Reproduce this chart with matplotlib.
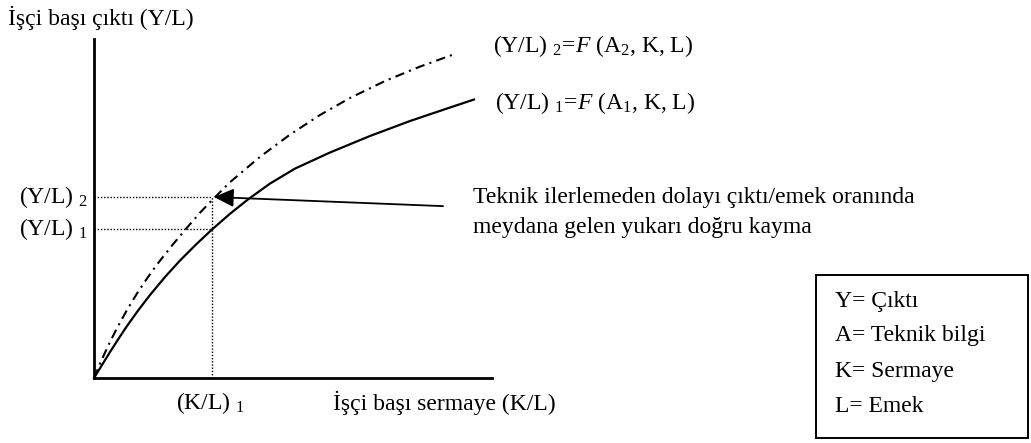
import matplotlib
matplotlib.use("Agg")
import matplotlib.pyplot as plt

plt.rcParams['font.family'] = ['Liberation Serif', 'DejaVu Serif']
plt.rcParams['mathtext.fontset'] = 'custom'
plt.rcParams['mathtext.rm'] = 'Liberation Serif'
plt.rcParams['mathtext.it'] = 'Liberation Serif:italic'

# ---- data (axis units 0..100) ----
curve1_x = [0, 2.01, 4.02, 6.03, 8.29, 11.06, 14.07, 17.84, 21.61, 25.63, 29.65,
            34.17, 38.69, 44.22, 50.50, 59.30, 69.35, 79.40, 89.45, 95.48]
curve1_y = [0, 3.83, 7.67, 11.33, 15.34, 19.88, 24.48, 29.79, 34.66, 39.38, 43.81,
            48.44, 52.68, 57.35, 61.77, 66.52, 71.39, 75.81, 79.79, 82.15]
curve2_x = [0, 1.51, 3.52, 5.78, 8.29, 10.80, 13.32, 15.83, 19.60, 22.86, 26.63,
            29.65, 34.17, 41.71, 49.25, 56.78, 64.32, 73.12, 81.91, 89.95]
curve2_y = [0, 4.25, 9.44, 14.75, 20.06, 24.93, 29.35, 33.48, 39.09, 43.66, 48.75,
            52.45, 57.76, 65.25, 71.80, 77.58, 82.60, 87.61, 91.86, 95.28]
kl1 = 29.65
yl1 = 43.81
yl2 = 53.39
arrow_tail = (87.7, 50.7)

label_y_axis = "İşçi başı çıktı (Y/L)"
label_x_axis = "İşçi başı sermaye (K/L)"
label_kl1 = r"(K/L) ${}_{1}$"
label_yl1 = r"(Y/L) ${}_{1}$"
label_yl2 = r"(Y/L) ${}_{2}$"
label_curve1 = r"(Y/L) ${}_{1}$=$\it{F}$ (A${}_{1}$, K, L)"
label_curve2 = r"(Y/L) ${}_{2}$=$\it{F}$ (A${}_{2}$, K, L)"
note_lines = ["Teknik ilerlemeden dolayı çıktı/emek oranında",
              "meydana gelen yukarı doğru kayma"]
legend_lines = ["Y= Çıktı", "A= Teknik bilgi", "K= Sermaye", "L= Emek"]

W, H = 1031, 443
FS = 17

def fx(px):
    return px / W

def fy(py):
    return 1 - py / H

fig = plt.figure(figsize=(W / 100, H / 100), dpi=100)
ax = fig.add_axes([fx(94), fy(378), fx(492) - fx(94), fy(39) - fy(378)])
ax.set_xlim(0, 100)
ax.set_ylim(0, 100)
for s in ['top', 'right']:
    ax.spines[s].set_visible(False)
for s in ['left', 'bottom']:
    ax.spines[s].set_linewidth(2.0)
ax.set_xticks([])
ax.set_yticks([])
ax.patch.set_alpha(0)

ax.plot(curve1_x, curve1_y, color='black', lw=1.6, clip_on=False)
ax.plot(curve2_x, curve2_y, color='black', lw=1.5, linestyle=(0, (4.5, 2.5, 1, 2.5)), clip_on=False)

# dotted guides
ax.plot([kl1, kl1], [0, yl2], color='black', lw=1.0, linestyle=(0, (1, 1.3)))
ax.plot([0, kl1], [yl1, yl1], color='black', lw=1.0, linestyle=(0, (1, 1.3)))
ax.plot([0, kl1], [yl2, yl2], color='black', lw=1.0, linestyle=(0, (1, 1.3)))

# arrow
ax.annotate('', xy=(kl1 + 0.5, yl2), xytext=arrow_tail,
            arrowprops=dict(arrowstyle='-|>,head_length=0.6,head_width=0.28',
                            mutation_scale=20, lw=1.3, color='black',
                            shrinkA=0, shrinkB=0))

# axis related labels
ax.text(-1.5, yl2, label_yl2, ha='right', va='center', fontsize=FS)
ax.text(-1.5, yl1, label_yl1, ha='right', va='center', fontsize=FS)
fig.text(fx(176), fy(403), label_kl1, ha='left', va='center', fontsize=FS)
fig.text(fx(333), fy(403), label_x_axis, ha='left', va='center', fontsize=FS)
fig.text(fx(8), fy(18), label_y_axis, ha='left', va='center', fontsize=FS)

fig.text(fx(493), fy(46), label_curve2, ha='left', va='center', fontsize=FS)
fig.text(fx(495), fy(103), label_curve1, ha='left', va='center', fontsize=FS)

fig.text(fx(473), fy(197), note_lines[0], ha='left', va='center', fontsize=FS)
fig.text(fx(473), fy(228), note_lines[1], ha='left', va='center', fontsize=FS)

# legend box
box = plt.Rectangle((fx(816), fy(438)), fx(1028) - fx(816), fy(275) - fy(438),
                    transform=fig.transFigure, fill=False, lw=1.4, edgecolor='black')
fig.patches.append(box)
for i, t in enumerate(legend_lines):
    fig.text(fx(835), fy(301 + 35 * i), t, ha='left', va='center', fontsize=FS)

fig.savefig('out.png', dpi=100)
